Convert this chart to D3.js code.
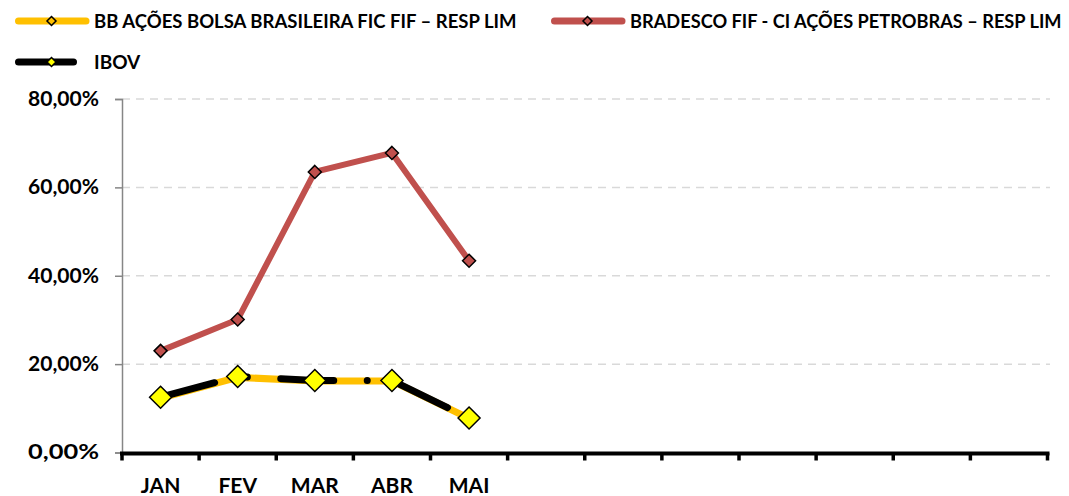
<!DOCTYPE html>
<html><head><meta charset="utf-8">
<script src="https://cdn.jsdelivr.net/npm/d3@7"></script>
<style>
html,body{margin:0;padding:0;background:#fff;}
svg{display:block;font-family:Lato,"Open Sans",sans-serif;font-weight:bold;}
</style></head>
<body>
<svg id="chart" width="1069" height="496"></svg>
<script>
// ---- data ----
const monthLabels = ["JAN","FEV","MAR","ABR","MAI","","","","","","",""];
const dataMonths = ["JAN","FEV","MAR","ABR","MAI"];
const bbValues = [12.3, 17.0, 16.2, 16.2, 7.7];
const bradescoValues = [23.0, 30.1, 63.5, 67.8, 43.4];
const ibovValues = [12.5, 17.2, 16.3, 16.3, 7.8];
const yTicks = [0, 20, 40, 60, 80];
const seriesNames = ["BB AÇÕES BOLSA BRASILEIRA FIC FIF – RESP LIM",
                     "BRADESCO FIF - CI AÇÕES PETROBRAS – RESP LIM",
                     "IBOV"];

const FW = "bold";
const svg = d3.select("#chart");
const x = d3.scaleBand().domain(d3.range(monthLabels.length)).range([122, 1047.5]);
const y = d3.scaleLinear().domain([0, 80]).range([452.5, 99]);
const cx = i => x(i) + x.bandwidth() / 2;
const fmt = v => d3.format(".2f")(v).replace(".", ",") + "%";

// gridlines
svg.append("g").selectAll("line").data(yTicks.filter(t => t > 0)).join("line")
  .attr("x1", 122).attr("x2", 1050).attr("y1", d => y(d)).attr("y2", d => y(d))
  .attr("stroke", "#d9d9d9").attr("stroke-width", 1.5).attr("stroke-dasharray", "8,6");

// y axis
const yAxis = svg.append("g").attr("transform", "translate(122,0)")
  .call(d3.axisLeft(y).tickValues(yTicks).tickFormat(fmt).tickSize(7).tickPadding(16));
yAxis.select(".domain").attr("stroke", "#868686").attr("stroke-width", 1.5);
yAxis.selectAll(".tick line").attr("stroke", "#868686").attr("stroke-width", 1.5);
yAxis.selectAll(".tick text").attr("font-family", "Lato").attr("font-weight", FW)
  .attr("font-size", 20).attr("fill", "#000").attr("textLength", 71).attr("lengthAdjust", "spacingAndGlyphs");

// x axis
const xAxis = svg.append("g").attr("transform", "translate(0,453.5)")
  .call(d3.axisBottom(x).tickSize(0).tickFormat(i => monthLabels[i]).tickPadding(25));
xAxis.select(".domain").attr("stroke", "#000").attr("stroke-width", 4).attr("d", "M120,0H1049.5");
xAxis.selectAll(".tick text").attr("font-family", "Lato").attr("font-weight", FW)
  .attr("font-size", 21).attr("fill", "#000");
svg.append("g").selectAll("line").data(d3.range(monthLabels.length + 1)).join("line")
  .attr("x1", i => i < monthLabels.length ? x(i) : x(i - 1) + x.bandwidth())
  .attr("x2", i => i < monthLabels.length ? x(i) : x(i - 1) + x.bandwidth())
  .attr("y1", 453).attr("y2", 460.5).attr("stroke", "#000").attr("stroke-width", 3.5);

// lines
const line = d3.line().x((d, i) => cx(i)).y(d => y(d));
const diamond = r => `M0,${-r}L${r},0L0,${r}L${-r},0Z`;

svg.append("path").datum(bradescoValues).attr("d", line).attr("fill", "none")
  .attr("stroke", "#c0504d").attr("stroke-width", 6);
svg.append("path").datum(bbValues).attr("d", line).attr("fill", "none")
  .attr("stroke", "#ffc000").attr("stroke-width", 7);
svg.append("g").selectAll("path").data(bbValues).join("path")
  .attr("transform", (d, i) => `translate(${cx(i)},${y(d)})`).attr("d", diamond(6))
  .attr("fill", "#ffc000").attr("stroke", "#000").attr("stroke-width", 1.5);
svg.append("path").datum(ibovValues).attr("d", line).attr("fill", "none")
  .attr("stroke", "#000").attr("stroke-width", 7).attr("stroke-linecap", "round")
  .attr("stroke-dasharray", "53,33.5,0.01,33.5").attr("stroke-dashoffset", 117);
svg.append("g").selectAll("path").data(bradescoValues).join("path")
  .attr("transform", (d, i) => `translate(${cx(i)},${y(d)})`).attr("d", diamond(6.5))
  .attr("fill", "#c0504d").attr("stroke", "#000").attr("stroke-width", 1.5);
svg.append("g").selectAll("path").data(ibovValues).join("path")
  .attr("transform", (d, i) => `translate(${cx(i)},${y(d)})`).attr("d", diamond(11))
  .attr("fill", "#ffff00").attr("stroke", "#000").attr("stroke-width", 1.5);

// legend
const legend = [
  {name: seriesNames[0], x: 15, y: 21, color: "#ffc000", mfill: "#ffc000", textW: 423},
  {name: seriesNames[1], x: 551, y: 21, color: "#c0504d", mfill: "#c0504d", textW: 432},
  {name: seriesNames[2], x: 15, y: 62, color: "#000", mfill: "#ffff00", textW: 80, dash: true}
];
const lg = svg.append("g").selectAll("g").data(legend).join("g")
  .attr("transform", d => `translate(${d.x},${d.y})`);
lg.append("line").attr("x1", 3.5).attr("x2", d => d.dash ? 78 : 71).attr("y1", 0).attr("y2", 0)
  .attr("stroke", d => d.color).attr("stroke-width", 7).attr("stroke-linecap", "round")
  .attr("stroke-dasharray", d => d.dash ? "55,40" : null);
lg.append("path").attr("transform", "translate(36.5,0)").attr("d", diamond(4.5))
  .attr("fill", d => d.mfill).attr("stroke", "#000").attr("stroke-width", 1.5);
lg.append("text").attr("x", 79).attr("y", 6.5).text(d => d.name)
  .attr("font-family", "Lato").attr("font-weight", FW).attr("font-size", 19)
  .each(function(d) {
    const w = this.getComputedTextLength();
    const fs = Math.min(19, 19 * d.textW / w);
    d3.select(this).attr("font-size", fs.toFixed(2));
  });
</script>
</body></html>
